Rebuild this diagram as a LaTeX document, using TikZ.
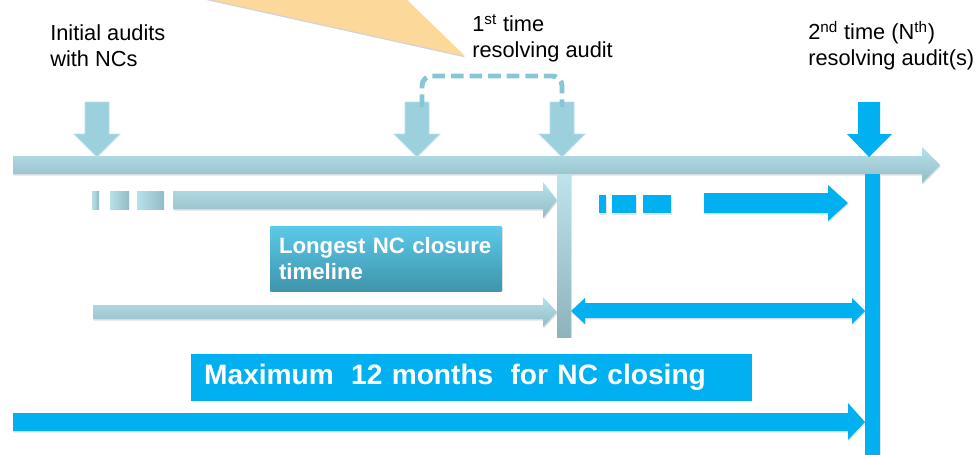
\documentclass[tikz,border=0pt]{standalone}
\usepackage{fontspec}
\setmainfont{Liberation Sans}
\usetikzlibrary{shadows}

\definecolor{capblue}{HTML}{00B0F0}
\definecolor{lbtop}{HTML}{B6E0EA}
\definecolor{lbbot}{HTML}{92BCC6}
\definecolor{lbarrow}{HTML}{9DD0DD}
\definecolor{lbdash}{HTML}{86C6D6}
\definecolor{boxtop}{HTML}{5BC9E8}
\definecolor{boxbot}{HTML}{3F94AB}
\definecolor{callout}{HTML}{FDD89B}

\begin{document}
\begin{tikzpicture}[x=0.025cm,y=-0.025cm,
    lightbar/.style={top color=lbtop,bottom color=lbbot,draw=none,
      drop shadow={opacity=0.25,shadow xshift=0.4pt,shadow yshift=-1.2pt}},
    lightpiece/.style={left color=lbtop,right color=lbbot,draw=none},
    darkbar/.style={fill=capblue,draw=none,
      drop shadow={opacity=0.2,shadow xshift=0.4pt,shadow yshift=-1.2pt}},
    auditarrow/.style={fill=lbarrow,draw=lbtop,line width=0.6pt},
    dashline/.style={draw=lbdash,line width=3.5pt,dash pattern=on 9pt off 4.2pt,rounded corners=7pt},
    label/.style={anchor=north west,inner sep=0pt,align=left,
      font=\fontsize{15.5}{18.5}\selectfont}]
  \useasboundingbox (0,0) rectangle (976,455);

  % callout pointer
  \fill[callout,drop shadow={opacity=0.35,shadow xshift=0pt,shadow yshift=-1pt}]
    (190,-5) -- (402,-5) -- (465,56) -- cycle;

  % labels
  \node[label] (init) at (50,24) {Initial audits\\with NCs};
  \node[label] (first) at (472,14) {1\textsuperscript{st} time\\resolving audit};
  \node[label] (second) at (808,21) {2\textsuperscript{nd} time (N\textsuperscript{th})\\resolving audit(s)};

  % time line
  \path[lightbar] (13,156) -- (922,156) -- (922,147) -- (940,165) -- (922,183)
    -- (922,174) -- (13,174) -- cycle;

  % audit arrows
  \foreach \x/\n in {97/a0,417/a1,562/a2} {
    \path[auditarrow] (\x-12,102) -- (\x+12,102) -- (\x+12,134) -- (\x+23,134)
      -- (\x,157) -- (\x-23,134) -- (\x-12,134) -- cycle;
    \coordinate (\n) at (\x,102);
  }
  \path[fill=capblue] (858,102) -- (880,102) -- (880,134) -- (892,134) -- (869,157)
    -- (847,134) -- (858,134) -- cycle;
  \coordinate (a3) at (869,102);

  \draw[dashline] (a1) ++(5,5) -- ++(0,-31) -| ([yshift=-3.5pt]a2);

  % first period
  \foreach \a/\b in {92/99,110/129,137/164}
    \path[lightpiece] (\a,191) rectangle (\b,209);
  \path[lightbar] (173,191) -- (543,191) -- (543,182) -- (557,200) -- (543,218)
    -- (543,209) -- (173,209) -- cycle;
  \path[top color=lbtop!90!white,bottom color=lbbot!85!gray,
    drop shadow={opacity=0.2,shadow xshift=0.8pt,shadow yshift=-0.8pt}]
    (557,174) rectangle (571,337);
  \path[lightbar] (93,305) -- (543,305) -- (543,297) -- (557,312) -- (543,327)
    -- (543,319) -- (93,319) -- cycle;

  % second period
  \foreach \a/\b in {599/606,612/636,643/671}
    \path[darkbar] (\a,195) rectangle (\b,213);
  \path[darkbar] (704,193) -- (828,193) -- (828,185) -- (848,203) -- (828,221)
    -- (828,213) -- (704,213) -- cycle;
  \path[darkbar] (865,174) rectangle (880,455);
  \path[darkbar] (571,311) -- (585,298) -- (585,303) -- (852,303) -- (852,298)
    -- (865,311) -- (852,324) -- (852,318) -- (585,318) -- (585,324) -- cycle;
  \path[darkbar] (13,413) -- (848,413) -- (848,403) -- (865,422) -- (848,440)
    -- (848,431) -- (13,431) -- cycle;

  % boxes
  \node[anchor=north west,minimum width=164.4pt,minimum height=46.1pt,
    text width=152pt,inner xsep=6.2pt,align=left,
    top color=boxtop,bottom color=boxbot,text=white,
    drop shadow={opacity=0.25,shadow xshift=0.8pt,shadow yshift=-0.8pt},
    font=\bfseries\fontsize{15.8}{18.5}\selectfont] (longest) at (270,226)
    {Longest NC closure\\timeline};
  \node[anchor=north west,minimum width=399pt,minimum height=33.3pt,
    text width=380.6pt,inner xsep=9.2pt,align=left,fill=capblue,text=white,
    font=\bfseries\fontsize{20}{24}\selectfont] (maxbox) at (191,354)
    {Maximum\hspace{0.28em} 12 months\hspace{0.28em} for NC closing};
\end{tikzpicture}
\end{document}
